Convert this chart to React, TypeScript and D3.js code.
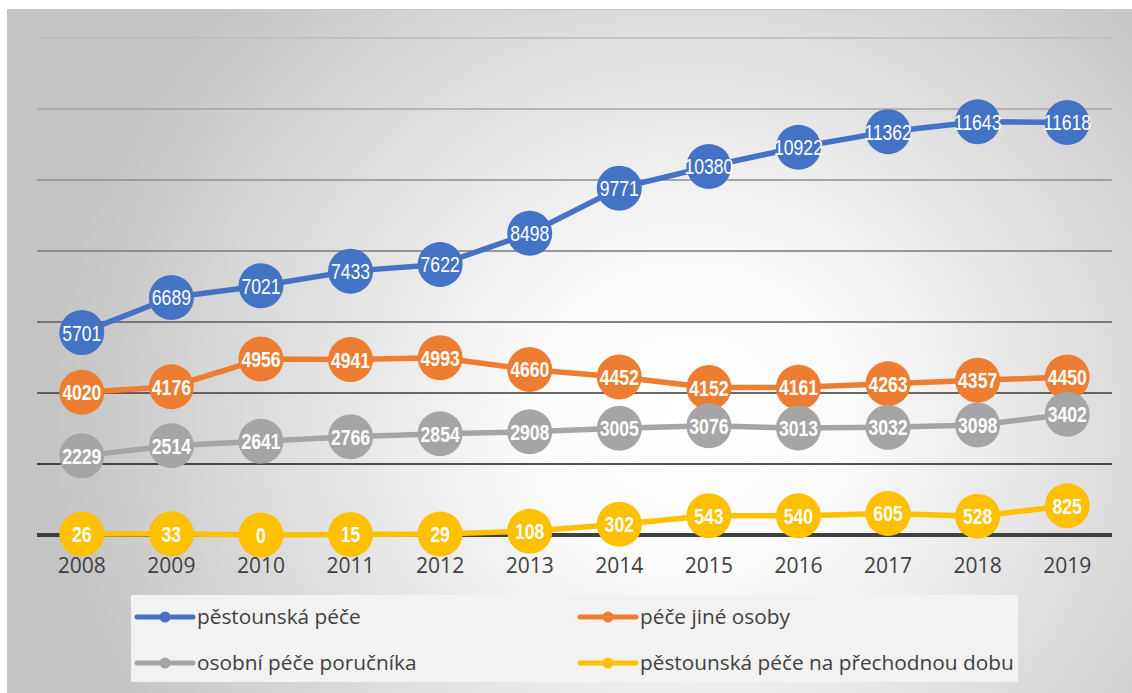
import React from "react";
import * as d3 from "d3";

const years = ["2008","2009","2010","2011","2012","2013","2014","2015","2016","2017","2018","2019"];
const pestounska = [5701,6689,7021,7433,7622,8498,9771,10380,10922,11362,11643,11618];
const jineOsoby = [4020,4176,4956,4941,4993,4660,4452,4152,4161,4263,4357,4450];
const porucnika = [2229,2514,2641,2766,2854,2908,3005,3076,3013,3032,3098,3402];
const prechodna = [26,33,0,15,29,108,302,543,540,605,528,825];
const gridTicks = [2000,4000,6000,8000,10000,12000,14000];
const gridColors = ["#1a1a1a","#3a3a3a","#5a5a5a","#7a7a7a","#8e8e8e","#a6a6a6","#bdbdbd"];

const series = [
  { name: "pěstounská péče", values: pestounska, color: "#4472C4", bold: false },
  { name: "péče jiné osoby", values: jineOsoby, color: "#ED7D31", bold: true },
  { name: "osobní péče poručníka", values: porucnika, color: "#A5A5A5", bold: true },
  { name: "pěstounská péče na přechodnou dobu", values: prechodna, color: "#FFC000", bold: true },
];

const W = 1132, H = 693;

export default function App() {
  const x = d3.scaleBand<string>().domain(years).range([37, 1112]);
  const y = d3.scaleLinear().domain([0, 14000]).range([535, 38]);
  const cx = (d: string) => (x(d) as number) + x.bandwidth() / 2;
  const line = d3.line<number>().x((_, i) => cx(years[i])).y((v) => y(v));

  const legendPos = [
    { lx: 137, ly: 617 },
    { lx: 580, ly: 617 },
    { lx: 137, ly: 663 },
    { lx: 580, ly: 663 },
  ];

  return (
    <svg width={W} height={H} style={{ position: "absolute", left: 0, top: 0 }}>
      <defs>
        <radialGradient id="bg" gradientUnits="userSpaceOnUse" cx={690} cy={420} r={640}
          gradientTransform="translate(690,420) scale(1,0.95) translate(-690,-420)">
          <stop offset="0" stopColor="#ffffff" />
          <stop offset="0.25" stopColor="#fbfbfb" />
          <stop offset="1" stopColor="#c4c4c4" />
        </radialGradient>
      </defs>
      <rect x={0} y={0} width={W} height={H} fill="#ffffff" />
      <rect x={7} y={9} width={W - 7} height={H - 9} fill="url(#bg)" />
      <line x1={7} x2={W} y1={9.5} y2={9.5} stroke="#c8c8c8" strokeWidth={1} />

      {gridTicks.map((t, i) => (
        <line key={t} x1={37} x2={1112} y1={y(t)} y2={y(t)} stroke={gridColors[i]} strokeWidth={1.5} />
      ))}
      <line x1={37} x2={1112} y1={y(0)} y2={y(0)} stroke="#404040" strokeWidth={4} />

      {years.map((yr) => (
        <text key={yr} x={cx(yr)} y={573} textAnchor="middle" fontFamily="'Open Sans', sans-serif"
          fontSize={21} fill="#404040">{yr}</text>
      ))}

      {series.map((s) => (
        <g key={s.name}>
          <path d={line(s.values) || ""} fill="none" stroke={s.color} strokeWidth={5.5} strokeLinejoin="round" />
          {s.values.map((v, i) => (
            <g key={i}>
              <circle cx={cx(years[i])} cy={y(v)} r={22.5} fill={s.color} />
              <text transform={`translate(${cx(years[i])},${y(v)}) scale(0.8,1)`} dy="0.36em" textAnchor="middle"
                fontFamily="'Liberation Sans', Arial, sans-serif"
                fontWeight={s.bold ? "bold" : "normal"} fontSize={22} fill="#ffffff">{v}</text>
            </g>
          ))}
        </g>
      ))}

      <rect x={131} y={595} width={887} height={87} fill="#f2f2f2" />
      {series.map((s, i) => {
        const p = legendPos[i];
        return (
          <g key={s.name}>
            <line x1={p.lx} x2={p.lx + 56} y1={p.ly} y2={p.ly} stroke={s.color} strokeWidth={5} strokeLinecap="round" />
            <circle cx={p.lx + 28} cy={p.ly} r={5.5} fill={s.color} />
            <text x={p.lx + 60} y={p.ly + 7} fontFamily="'Open Sans', sans-serif" fontSize={20.8} fill="#404040">{s.name}</text>
          </g>
        );
      })}
    </svg>
  );
}
